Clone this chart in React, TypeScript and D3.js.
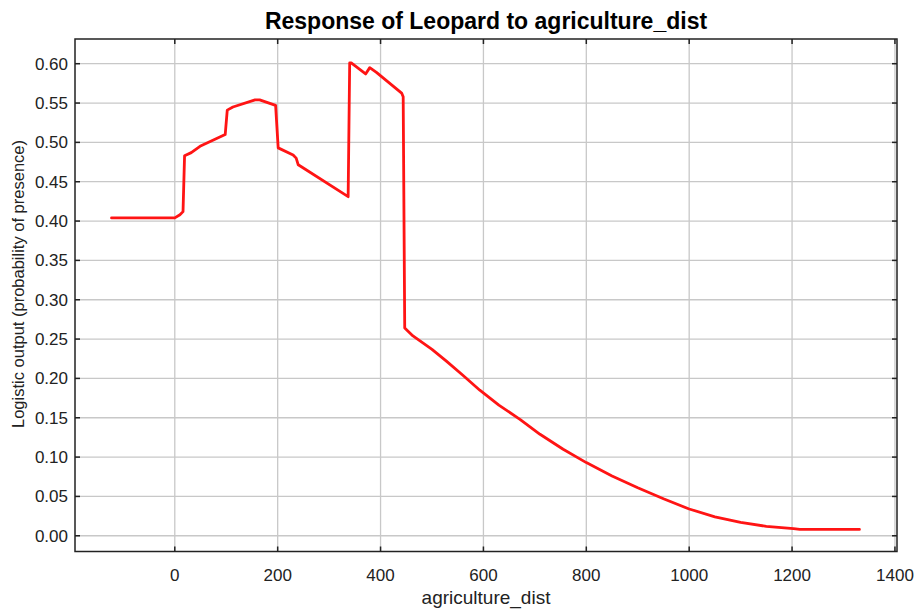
import React, { useEffect, useRef } from "react";
import * as d3 from "d3";

// Response curve: agriculture_dist vs. logistic output
const distValues: number[] = [
  -123, 0, 10, 16, 19, 32, 49, 98, 102, 113, 156, 165, 196, 201, 230, 236, 240, 337,
  340, 343, 371, 379, 392, 441, 444, 447, 463, 500, 528, 560, 593, 630, 671, 710,
  755, 800, 850, 900, 950, 1000, 1050, 1100, 1150, 1203, 1215, 1331,
];
const probValues: number[] = [
  0.404, 0.404, 0.408, 0.412, 0.483, 0.487, 0.495, 0.51, 0.541, 0.545, 0.554, 0.554,
  0.547, 0.493, 0.484, 0.48, 0.4715, 0.431, 0.601, 0.601, 0.587, 0.595, 0.589, 0.5627,
  0.558, 0.264, 0.254, 0.237, 0.222, 0.204, 0.185, 0.166, 0.148, 0.129, 0.11, 0.093,
  0.076, 0.061, 0.047, 0.034, 0.024, 0.017, 0.012, 0.009, 0.008, 0.008,
];

const xTicks: number[] = [0, 200, 400, 600, 800, 1000, 1200, 1400];
const yTicks: number[] = [0, 0.05, 0.1, 0.15, 0.2, 0.25, 0.3, 0.35, 0.4, 0.45, 0.5, 0.55, 0.6];

const titleText = "Response of Leopard to agriculture_dist";
const xLabel = "agriculture_dist";
const yLabel = "Logistic output (probability of presence)";

const W = 917;
const H = 612;
const plot = { left: 75, right: 897, top: 39, bottom: 551.5 };
const FONT = "'Liberation Sans', Arial, sans-serif";

export default function App() {
  const ref = useRef<SVGSVGElement | null>(null);

  useEffect(() => {
    document.body.style.margin = "0";
    const svg = d3.select(ref.current);
    svg.selectAll("*").remove();

    const x = d3.scaleLinear().domain([-194, 1404]).range([plot.left, plot.right]);
    const y = d3.scaleLinear().domain([-0.02, 0.6314]).range([plot.bottom, plot.top]);

    svg.append("rect").attr("width", W).attr("height", H).attr("fill", "#fff");

    // grid
    const grid = svg.append("g").attr("stroke", "#c8c8c8").attr("stroke-width", 1.3);
    xTicks.forEach((t) => {
      grid.append("line")
        .attr("x1", x(t)).attr("x2", x(t))
        .attr("y1", plot.top).attr("y2", plot.bottom);
    });
    yTicks.forEach((t) => {
      grid.append("line")
        .attr("x1", plot.left).attr("x2", plot.right)
        .attr("y1", y(t)).attr("y2", y(t));
    });

    // curve
    const pts: [number, number][] = distValues.map((d, i) => [d, probValues[i]]);
    const line = d3.line<[number, number]>().x((d) => x(d[0])).y((d) => y(d[1]));
    svg.append("path")
      .attr("d", line(pts) as string)
      .attr("fill", "none")
      .attr("stroke", "#ff1414")
      .attr("stroke-width", 2.8)
      .attr("stroke-linejoin", "round")
      .attr("stroke-linecap", "round");

    // frame
    svg.append("rect")
      .attr("x", plot.left).attr("y", plot.top)
      .attr("width", plot.right - plot.left).attr("height", plot.bottom - plot.top)
      .attr("fill", "none").attr("stroke", "#222").attr("stroke-width", 1.5);

    // inward tick marks on all four sides
    const tk = svg.append("g").attr("stroke", "#222").attr("stroke-width", 1.5);
    const tl = 5;
    xTicks.forEach((t) => {
      tk.append("line").attr("x1", x(t)).attr("x2", x(t)).attr("y1", plot.bottom).attr("y2", plot.bottom - tl);
      tk.append("line").attr("x1", x(t)).attr("x2", x(t)).attr("y1", plot.top).attr("y2", plot.top + tl);
    });
    yTicks.forEach((t) => {
      tk.append("line").attr("x1", plot.left).attr("x2", plot.left + tl).attr("y1", y(t)).attr("y2", y(t));
      tk.append("line").attr("x1", plot.right).attr("x2", plot.right - tl).attr("y1", y(t)).attr("y2", y(t));
    });

    // tick labels
    const fmtY = d3.format(".2f");
    svg.append("g").selectAll("text").data(yTicks).join("text")
      .attr("x", plot.left - 7).attr("y", (d) => y(d))
      .attr("dy", "0.35em")
      .attr("text-anchor", "end")
      .attr("font-family", FONT).attr("font-size", 17).attr("fill", "#222")
      .text((d) => fmtY(d));
    svg.append("g").selectAll("text").data(xTicks).join("text")
      .attr("x", (d) => x(d)).attr("y", 581)
      .attr("text-anchor", "middle")
      .attr("font-family", FONT).attr("font-size", 17).attr("fill", "#222")
      .text((d) => String(d));

    // axis titles
    svg.append("text")
      .attr("x", (plot.left + plot.right) / 2).attr("y", 604)
      .attr("text-anchor", "middle")
      .attr("font-family", FONT).attr("font-size", 19).attr("fill", "#222")
      .text(xLabel);
    svg.append("text")
      .attr("transform", `translate(24, 284) rotate(-90)`)
      .attr("text-anchor", "middle")
      .attr("font-family", FONT).attr("font-size", 16.5).attr("fill", "#222")
      .text(yLabel);

    // chart title
    svg.append("text")
      .attr("x", (plot.left + plot.right) / 2).attr("y", 29)
      .attr("text-anchor", "middle")
      .attr("font-family", FONT).attr("font-size", 23).attr("font-weight", "bold").attr("fill", "#000")
      .text(titleText);
  }, []);

  return <svg ref={ref} width={W} height={H} style={{ display: "block" }} />;
}
